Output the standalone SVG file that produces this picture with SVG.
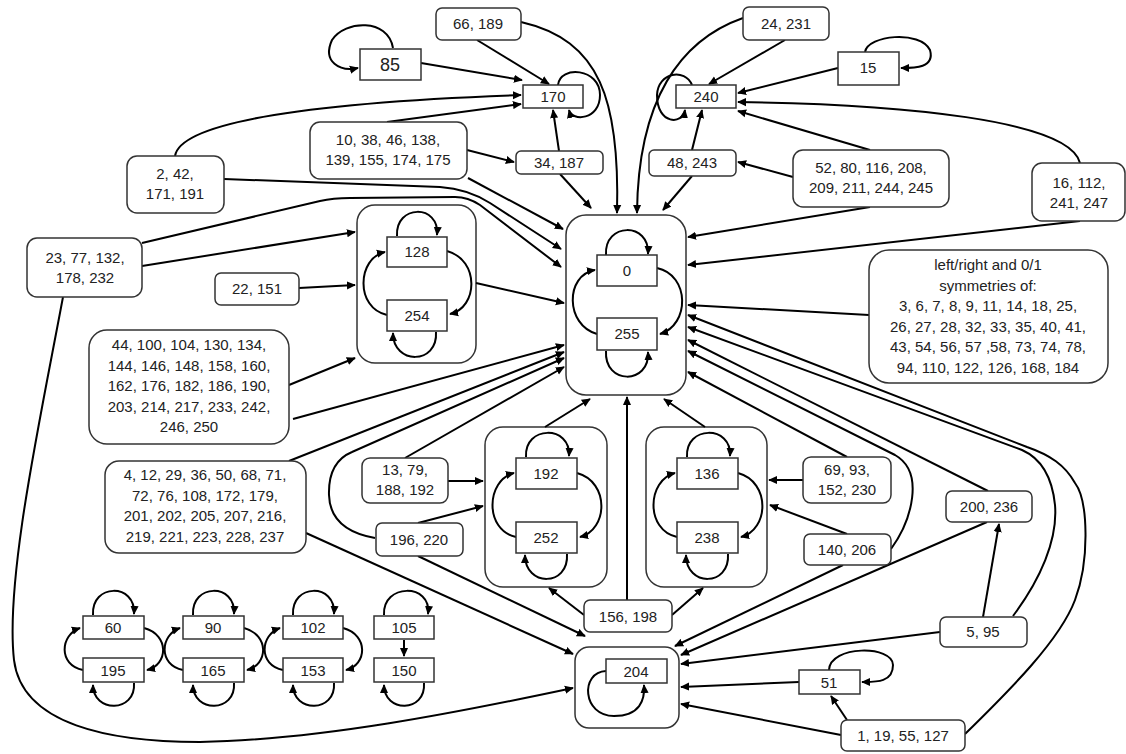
<svg xmlns="http://www.w3.org/2000/svg" width="1126" height="754" viewBox="0 0 1126 754">
<defs>
<marker id="a" viewBox="0 0 10 10" refX="9" refY="5" markerWidth="9" markerHeight="9" markerUnits="userSpaceOnUse" orient="auto"><path d="M0,0.5 L10,5 L0,9.5 z" fill="#000"/></marker>
<style>
.n{fill:#fff;stroke:#333;stroke-width:1.5}
.g{fill:none;stroke:#333;stroke-width:1.5}
.e{fill:none;stroke:#000;stroke-width:2;marker-end:url(#a)}
text{font-family:"Liberation Sans",Arial,sans-serif;font-size:15px;fill:#222;text-anchor:middle}
</style>
</defs>
<rect width="1126" height="754" fill="#fff"/>
<g id="groups">
<rect id="grp-128" class="g" x="357" y="205" width="119" height="158" rx="18"/>
<rect id="grp-0" class="g" x="566" y="215" width="120" height="180" rx="20"/>
<rect id="grp-192" class="g" x="485" y="427" width="122" height="160" rx="18"/>
<rect id="grp-136" class="g" x="646" y="427" width="121" height="160" rx="18"/>
<rect id="grp-204" class="g" x="575" y="647" width="104" height="81" rx="14"/>
</g>
<g id="connectors">
<path class="e" d="M393 48 C388 18,345 20,332 40 C322 62,340 72,358 68"/>
<path class="e" d="M421 63 L522 80"/>
<path class="e" d="M477 40 L549 84"/>
<path class="e" d="M521 22 C600 40,620 100,617 213"/>
<path class="e" d="M558 85 C560 65,600 68,600 95 C600 120,572 122,569 110"/>
<path class="e" d="M175 156 C180 125,290 103,521 95"/>
<path class="e" d="M387 122 L521 104"/>
<path class="e" d="M467 150 L514 162"/>
<path class="e" d="M559 151 L553 110"/>
<path class="e" d="M560 174 L591 208"/>
<path class="e" d="M468 178 L563 229"/>
<path class="e" d="M224 179 L440 187 Q468 189,490 203 L561 249"/>
<path class="e" d="M142 243 L320 201 Q333 198,350 198 L455 197 Q468 197,480 205 L561 267"/>
<path class="e" d="M142 266 L355 232"/>
<path class="e" d="M63 297 C40 420,5 580,14 660 C22 725,110 742,200 742 C320 740,460 712,573 688"/>
<path class="e" d="M299 288 L355 285"/>
<path class="e" d="M476 283 L564 303"/>
<path class="e" d="M289 385 L355 358"/>
<path class="e" d="M293 419 L564 345"/>
<path class="e" d="M289 461 L564 352"/>
<path class="e" d="M375 538 Q330 530,329 495 Q328 462,352 452 L564 358"/>
<path class="e" d="M405 458 L564 367"/>
<path class="e" d="M306 533 L573 654"/>
<path class="e" d="M448 481 L483 481"/>
<path class="e" d="M418 523 L483 506"/>
<path class="e" d="M418 556 L585 636"/>
<path class="e" d="M545 427 L590 399"/>
<path class="e" d="M627 600 L627 397"/>
<path class="e" d="M584 615 L549 588"/>
<path class="e" d="M672 615 L703 588"/>
<path class="e" d="M705 427 L664 399"/>
<path class="e" d="M803 480 L769 480"/>
<path class="e" d="M847 534 L770 505"/>
<path class="e" d="M891 549 C912 520,925 472,895 455 L688 351"/>
<path class="e" d="M988 491 L688 340"/>
<path class="e" d="M847 457 L688 372"/>
<path class="e" d="M1013 616 C1040 580,1058 540,1055 505 C1052 475,1040 458,1022 450 L688 327"/>
<path class="e" d="M965 734 C1010 690,1060 640,1075 600 C1090 560,1088 500,1075 483 C1065 465,1050 455,1027 447 L688 315"/>
<path class="e" d="M869 315 L688 305"/>
<path class="e" d="M1080 221 L688 265"/>
<path class="e" d="M1080 163 C1070 120,900 104,738 102"/>
<path class="e" d="M838 68 L738 93"/>
<path class="e" d="M865 52 C868 35,920 30,930 50 C935 68,915 68,901 68"/>
<path class="e" d="M785 40 L709 84"/>
<path class="e" d="M743 18 C680 40,638 100,637 213"/>
<path class="e" d="M692 85 C685 68,658 72,657 95 C657 125,683 125,685 110"/>
<path class="e" d="M692 150 L702 110"/>
<path class="e" d="M692 176 L663 210"/>
<path class="e" d="M793 177 L738 162"/>
<path class="e" d="M870 150 L738 111"/>
<path class="e" d="M870 207 L688 237"/>
<path class="e" d="M983 617 L999 524"/>
<path class="e" d="M987 522 L681 655"/>
<path class="e" d="M843 565 L675 646"/>
<path class="e" d="M940 632 L681 664"/>
<path class="e" d="M799 682 L681 687"/>
<path class="e" d="M841 735 L681 704"/>
<path class="e" d="M847 720 L831 696"/>
<path class="e" d="M829 670 C830 645,893 645,893 665 C893 683,875 682,862 682"/>
<!-- 0/255 -->
<path class="e" d="M606 255 C604 222,650 222,648 254"/>
<path class="e" d="M657 268 C690 275,690 325,660 334"/>
<path class="e" d="M597 334 C565 325,565 275,595 270"/>
<path class="e" d="M606 351 C604 385,650 385,648 352"/>
<!-- 128/254 -->
<path class="e" d="M397 236 C395 204,440 204,437 235"/>
<path class="e" d="M447 251 C480 260,478 308,450 314"/>
<path class="e" d="M387 315 C355 308,357 258,385 252"/>
<path class="e" d="M436 332 C438 365,393 365,393 333"/>
<!-- 192/252 -->
<path class="e" d="M526 457 C524 425,571 425,569 456"/>
<path class="e" d="M577 473 C610 482,608 530,580 537"/>
<path class="e" d="M516 537 C484 530,486 480,514 473"/>
<path class="e" d="M567 554 C569 587,525 587,525 555"/>
<!-- 136/238 -->
<path class="e" d="M687 457 C685 425,732 425,730 456"/>
<path class="e" d="M738 473 C771 482,769 530,741 537"/>
<path class="e" d="M677 537 C645 530,647 480,675 473"/>
<path class="e" d="M728 554 C730 587,686 587,686 555"/>
<!-- 204 -->
<path class="e" d="M606 671 C580 672,582 716,614 716 C640 716,645 700,644 685"/>
<!-- 60/195 -->
<path class="e" d="M93 615 C91 583,136 583,134 614"/>
<path class="e" d="M144 628 C170 635,168 665,147 670"/>
<path class="e" d="M83 670 C58 665,60 635,80 628"/>
<path class="e" d="M134 683 C136 713,93 713,93 685"/>
<!-- 90/165 -->
<path class="e" d="M193 615 C191 583,236 583,234 614"/>
<path class="e" d="M244 628 C270 635,268 665,247 670"/>
<path class="e" d="M183 670 C158 665,160 635,180 628"/>
<path class="e" d="M234 683 C236 713,193 713,193 685"/>
<!-- 102/153 -->
<path class="e" d="M293 615 C291 583,336 583,334 614"/>
<path class="e" d="M343 628 C369 635,367 665,346 670"/>
<path class="e" d="M283 670 C258 665,260 635,280 628"/>
<path class="e" d="M334 683 C336 713,293 713,293 685"/>
<!-- 105/150 -->
<path class="e" d="M384 615 C382 583,432 583,428 614"/>
<path class="e" d="M404 640 L404 656"/>
<path class="e" d="M424 683 C426 713,384 713,384 685"/>
</g>
<g id="n66"><rect class="n" x="436" y="8" width="85" height="32" rx="6"/><text x="478" y="29">66, 189</text></g>
<g id="n85"><rect class="n" x="360" y="49" width="61" height="31"/><text x="390" y="71" style="font-size:18px">85</text></g>
<g id="n170"><rect class="n" x="523" y="85" width="60" height="23"/><text x="553" y="102">170</text></g>
<g id="n34"><rect class="n" x="516" y="151" width="87" height="23" rx="5"/><text x="559" y="168">34, 187</text></g>
<g id="n10"><rect class="n" x="310" y="122" width="157" height="57" rx="10"/><text x="388" y="145">10, 38, 46, 138,</text><text x="388" y="165">139, 155, 174, 175</text></g>
<g id="n2"><rect class="n" x="127" y="156" width="97" height="57" rx="10"/><text x="175" y="179">2, 42,</text><text x="175" y="199">171, 191</text></g>
<g id="n23"><rect class="n" x="27" y="238" width="115" height="59" rx="10"/><text x="85" y="263">23, 77, 132,</text><text x="85" y="283">178, 232</text></g>
<g id="n22"><rect class="n" x="215" y="273" width="84" height="32" rx="6"/><text x="257" y="294">22, 151</text></g>
<g id="n44"><rect class="n" x="89" y="330" width="200" height="114" rx="18"/><text x="189" y="350">44, 100, 104, 130, 134,</text><text x="189" y="370.5">144, 146, 148, 158, 160,</text><text x="189" y="391">162, 176, 182, 186, 190,</text><text x="189" y="411.5">203, 214, 217, 233, 242,</text><text x="189" y="432">246, 250</text></g>
<g id="n4"><rect class="n" x="105" y="461" width="201" height="92" rx="14"/><text x="205" y="480">4, 12, 29, 36, 50, 68, 71,</text><text x="205" y="500.5">72, 76, 108, 172, 179,</text><text x="205" y="521">201, 202, 205, 207, 216,</text><text x="205" y="541.5">219, 221, 223, 228, 237</text></g>
<g id="n128"><rect class="n" x="387" y="237" width="60" height="30"/><text x="417" y="257">128</text></g>
<g id="n254"><rect class="n" x="387" y="300" width="60" height="31"/><text x="417" y="321">254</text></g>
<g id="n0"><rect class="n" x="597" y="255" width="60" height="31"/><text x="627" y="276">0</text></g>
<g id="n255"><rect class="n" x="597" y="318" width="60" height="32"/><text x="627" y="339">255</text></g>
<g id="n240"><rect class="n" x="676" y="85" width="60" height="23"/><text x="706" y="102">240</text></g>
<g id="n48"><rect class="n" x="649" y="150" width="87" height="26" rx="5"/><text x="692" y="168">48, 243</text></g>
<g id="n24"><rect class="n" x="743" y="7" width="86" height="33" rx="6"/><text x="786" y="29">24, 231</text></g>
<g id="n15"><rect class="n" x="838" y="52" width="61" height="33"/><text x="868" y="73">15</text></g>
<g id="n52"><rect class="n" x="793" y="150" width="156" height="57" rx="10"/><text x="871" y="173">52, 80, 116, 208,</text><text x="871" y="193">209, 211, 244, 245</text></g>
<g id="n16"><rect class="n" x="1032" y="163" width="93" height="58" rx="10"/><text x="1079" y="188">16, 112,</text><text x="1079" y="208">241, 247</text></g>
<g id="nsym"><rect class="n" x="869" y="250" width="239" height="133" rx="20"/><text x="988" y="270">left/right and 0/1</text><text x="988" y="290.5">symmetries of:</text><text x="988" y="311">3, 6, 7, 8, 9, 11, 14, 18, 25,</text><text x="988" y="331.5">26, 27, 28, 32, 33, 35, 40, 41,</text><text x="988" y="352">43, 54, 56, 57 ,58, 73, 74, 78,</text><text x="988" y="372.5">94, 110, 122, 126, 168, 184</text></g>
<g id="n13"><rect class="n" x="362" y="458" width="86" height="45" rx="8"/><text x="405" y="475">13, 79,</text><text x="405" y="495">188, 192</text></g>
<g id="n196"><rect class="n" x="376" y="523" width="87" height="33" rx="6"/><text x="419" y="545">196, 220</text></g>
<g id="n192"><rect class="n" x="516" y="458" width="61" height="31"/><text x="546" y="479">192</text></g>
<g id="n252"><rect class="n" x="516" y="522" width="61" height="31"/><text x="546" y="543">252</text></g>
<g id="n136"><rect class="n" x="677" y="458" width="61" height="31"/><text x="707" y="479">136</text></g>
<g id="n238"><rect class="n" x="677" y="522" width="61" height="31"/><text x="707" y="543">238</text></g>
<g id="n69"><rect class="n" x="803" y="457" width="88" height="46" rx="8"/><text x="847" y="475">69, 93,</text><text x="847" y="495">152, 230</text></g>
<g id="n200"><rect class="n" x="946" y="491" width="86" height="31" rx="6"/><text x="989" y="512">200, 236</text></g>
<g id="n140"><rect class="n" x="804" y="534" width="87" height="31" rx="6"/><text x="847" y="555">140, 206</text></g>
<g id="n5"><rect class="n" x="940" y="617" width="87" height="30" rx="6"/><text x="983" y="637">5, 95</text></g>
<g id="n51"><rect class="n" x="799" y="670" width="61" height="24"/><text x="829" y="688">51</text></g>
<g id="n1"><rect class="n" x="841" y="720" width="124" height="31" rx="6"/><text x="903" y="741">1, 19, 55, 127</text></g>
<g id="n156"><rect class="n" x="584" y="600" width="88" height="32" rx="6"/><text x="628" y="622">156, 198</text></g>
<g id="n204"><rect class="n" x="606" y="659" width="61" height="24"/><text x="636" y="677">204</text></g>
<g id="n60"><rect class="n" x="83" y="616" width="61" height="23"/><text x="113" y="633">60</text></g>
<g id="n195"><rect class="n" x="83" y="658" width="61" height="24"/><text x="113" y="676">195</text></g>
<g id="n90"><rect class="n" x="183" y="616" width="61" height="23"/><text x="213" y="633">90</text></g>
<g id="n165"><rect class="n" x="183" y="658" width="61" height="24"/><text x="213" y="676">165</text></g>
<g id="n102"><rect class="n" x="283" y="616" width="60" height="23"/><text x="313" y="633">102</text></g>
<g id="n153"><rect class="n" x="283" y="658" width="60" height="24"/><text x="313" y="676">153</text></g>
<g id="n105"><rect class="n" x="374" y="616" width="60" height="23"/><text x="404" y="633">105</text></g>
<g id="n150"><rect class="n" x="374" y="658" width="60" height="24"/><text x="404" y="676">150</text></g>
</svg>
